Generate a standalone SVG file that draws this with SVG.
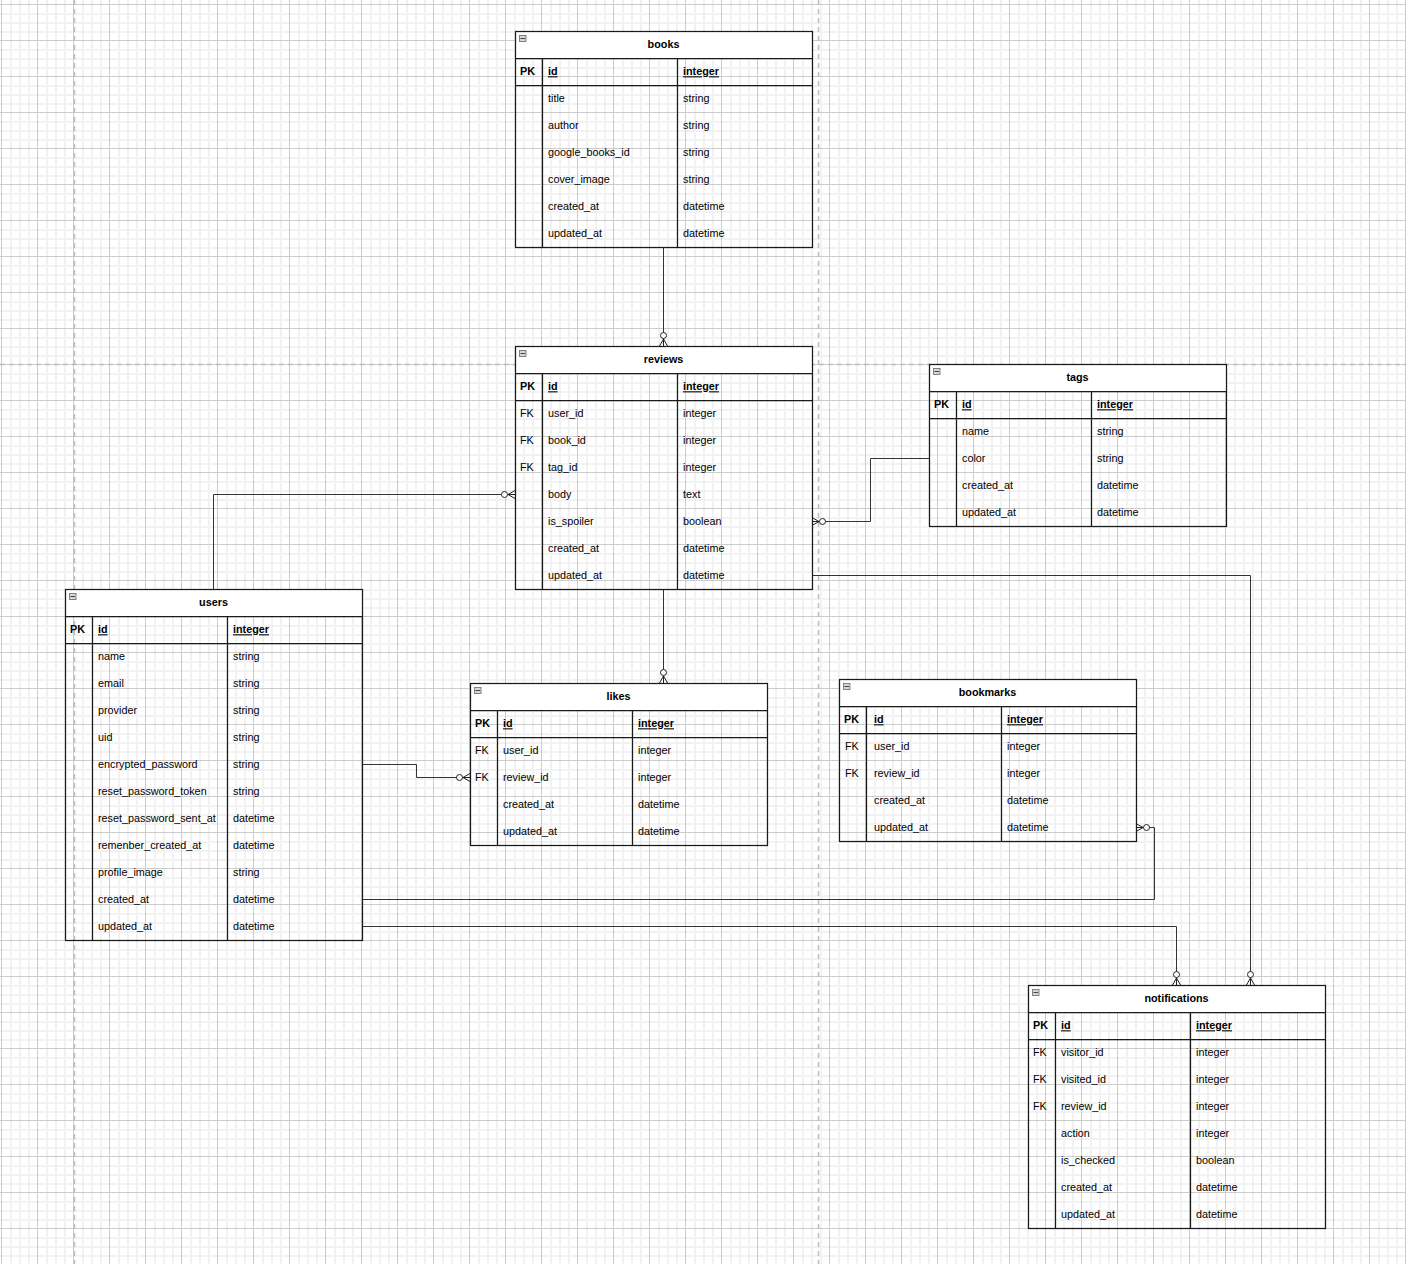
<svg xmlns="http://www.w3.org/2000/svg" width="1406" height="1264" viewBox="0 0 1406 1264">
<style>
.t{font-family:"Liberation Sans",Arial,Helvetica,sans-serif;font-size:10.8px;fill:#000}
.b{font-weight:bold}
.u{text-decoration:underline}
.h{font-weight:bold;text-anchor:middle}
.frame{fill:none;stroke:#1a1a1a;stroke-width:1.25}
.hdr{fill:#fff;stroke:none}
.ln{stroke:#1a1a1a;stroke-width:1.25;fill:none}
.ico{fill:#d6d6d6;stroke:#777;stroke-width:0.9}
.icl{stroke:#444;stroke-width:1}
.c{fill:none;stroke:#333;stroke-width:1;marker-end:url(#zm)}
.pg{stroke:#bdbdbd;stroke-width:1.5;stroke-dasharray:5 4;fill:none}
</style>
<defs>
<pattern id="grid" x="37" y="4" width="36" height="36" patternUnits="userSpaceOnUse">
<rect width="36" height="36" fill="#fff"/>
<rect x="9" y="0" width="2" height="36" fill="#f2f2f2"/>
<rect x="18" y="0" width="2" height="36" fill="#f2f2f2"/>
<rect x="27" y="0" width="2" height="36" fill="#f2f2f2"/>
<rect x="0" y="9" width="36" height="2" fill="#f2f2f2"/>
<rect x="0" y="18" width="36" height="2" fill="#f2f2f2"/>
<rect x="0" y="27" width="36" height="2" fill="#f2f2f2"/>
<rect x="0" y="0" width="1" height="36" fill="#cccccc"/>
<rect x="0" y="0" width="36" height="1" fill="#cccccc"/>
</pattern>
<marker id="zm" markerUnits="userSpaceOnUse" viewBox="-16 -8 17 16" refX="0" refY="0" markerWidth="17" markerHeight="16" orient="auto" overflow="visible">
<path d="M-7 0L0 -4M-7 0L0 0M-7 0L0 4" fill="none" stroke="#222" stroke-width="1"/>
<circle cx="-10.5" cy="0" r="3" fill="#fff" stroke="#222" stroke-width="1"/>
</marker>
</defs>
<rect width="1406" height="1264" fill="url(#grid)"/>
<g id="page-breaks">
<path class="pg" d="M74.5 0V1264M818.5 0V1264M0 364.5H1406"/>
</g>
<g id="connectors">
<path class="c" d="M663.5 247V346"/>
<path class="c" d="M213.5 589V494.5H515"/>
<path class="c" d="M929 458.5H870.5V521.5H812"/>
<path class="c" d="M663.5 589V683"/>
<path class="c" d="M362 764.5H416.5V777.5H470"/>
<path class="c" d="M362 899.5H1154.5V827.5H1136"/>
<path class="c" d="M362 926.5H1176.5V985"/>
<path class="c" d="M812 575.5H1250.5V985"/>
</g>
<g id="books" transform="translate(515,31)">
<rect class="hdr" x="0.5" y="0.5" width="297" height="27"/>
<rect class="frame" x="0.5" y="0.5" width="297" height="216"/>
<path class="ln" d="M0.5 27.5H297.5M0.5 54.5H297.5M27.5 27.5V216.5M162.5 27.5V216.5"/>
<rect class="ico" x="4.5" y="4.5" width="6.5" height="6"/><path class="icl" d="M5.5 7.5H10"/>
<text class="t h" x="148.5" y="17.3">books</text>
<text class="t b" x="5" y="44.3">PK</text><text class="t b u" x="33" y="44.3">id</text><text class="t b u" x="168" y="44.3">integer</text>
<text class="t" x="33" y="71.3">title</text><text class="t" x="168" y="71.3">string</text>
<text class="t" x="33" y="98.3">author</text><text class="t" x="168" y="98.3">string</text>
<text class="t" x="33" y="125.3">google_books_id</text><text class="t" x="168" y="125.3">string</text>
<text class="t" x="33" y="152.3">cover_image</text><text class="t" x="168" y="152.3">string</text>
<text class="t" x="33" y="179.3">created_at</text><text class="t" x="168" y="179.3">datetime</text>
<text class="t" x="33" y="206.3">updated_at</text><text class="t" x="168" y="206.3">datetime</text>
</g>
<g id="reviews" transform="translate(515,346)">
<rect class="hdr" x="0.5" y="0.5" width="297" height="27"/>
<rect class="frame" x="0.5" y="0.5" width="297" height="243"/>
<path class="ln" d="M0.5 27.5H297.5M0.5 54.5H297.5M27.5 27.5V243.5M162.5 27.5V243.5"/>
<rect class="ico" x="4.5" y="4.5" width="6.5" height="6"/><path class="icl" d="M5.5 7.5H10"/>
<text class="t h" x="148.5" y="17.3">reviews</text>
<text class="t b" x="5" y="44.3">PK</text><text class="t b u" x="33" y="44.3">id</text><text class="t b u" x="168" y="44.3">integer</text>
<text class="t" x="5" y="71.3">FK</text><text class="t" x="33" y="71.3">user_id</text><text class="t" x="168" y="71.3">integer</text>
<text class="t" x="5" y="98.3">FK</text><text class="t" x="33" y="98.3">book_id</text><text class="t" x="168" y="98.3">integer</text>
<text class="t" x="5" y="125.3">FK</text><text class="t" x="33" y="125.3">tag_id</text><text class="t" x="168" y="125.3">integer</text>
<text class="t" x="33" y="152.3">body</text><text class="t" x="168" y="152.3">text</text>
<text class="t" x="33" y="179.3">is_spoiler</text><text class="t" x="168" y="179.3">boolean</text>
<text class="t" x="33" y="206.3">created_at</text><text class="t" x="168" y="206.3">datetime</text>
<text class="t" x="33" y="233.3">updated_at</text><text class="t" x="168" y="233.3">datetime</text>
</g>
<g id="tags" transform="translate(929,364)">
<rect class="hdr" x="0.5" y="0.5" width="297" height="27"/>
<rect class="frame" x="0.5" y="0.5" width="297" height="162"/>
<path class="ln" d="M0.5 27.5H297.5M0.5 54.5H297.5M27.5 27.5V162.5M162.5 27.5V162.5"/>
<rect class="ico" x="4.5" y="4.5" width="6.5" height="6"/><path class="icl" d="M5.5 7.5H10"/>
<text class="t h" x="148.5" y="17.3">tags</text>
<text class="t b" x="5" y="44.3">PK</text><text class="t b u" x="33" y="44.3">id</text><text class="t b u" x="168" y="44.3">integer</text>
<text class="t" x="33" y="71.3">name</text><text class="t" x="168" y="71.3">string</text>
<text class="t" x="33" y="98.3">color</text><text class="t" x="168" y="98.3">string</text>
<text class="t" x="33" y="125.3">created_at</text><text class="t" x="168" y="125.3">datetime</text>
<text class="t" x="33" y="152.3">updated_at</text><text class="t" x="168" y="152.3">datetime</text>
</g>
<g id="users" transform="translate(65,589)">
<rect class="hdr" x="0.5" y="0.5" width="297" height="27"/>
<rect class="frame" x="0.5" y="0.5" width="297" height="351"/>
<path class="ln" d="M0.5 27.5H297.5M0.5 54.5H297.5M27.5 27.5V351.5M162.5 27.5V351.5"/>
<rect class="ico" x="4.5" y="4.5" width="6.5" height="6"/><path class="icl" d="M5.5 7.5H10"/>
<text class="t h" x="148.5" y="17.3">users</text>
<text class="t b" x="5" y="44.3">PK</text><text class="t b u" x="33" y="44.3">id</text><text class="t b u" x="168" y="44.3">integer</text>
<text class="t" x="33" y="71.3">name</text><text class="t" x="168" y="71.3">string</text>
<text class="t" x="33" y="98.3">email</text><text class="t" x="168" y="98.3">string</text>
<text class="t" x="33" y="125.3">provider</text><text class="t" x="168" y="125.3">string</text>
<text class="t" x="33" y="152.3">uid</text><text class="t" x="168" y="152.3">string</text>
<text class="t" x="33" y="179.3">encrypted_password</text><text class="t" x="168" y="179.3">string</text>
<text class="t" x="33" y="206.3">reset_password_token</text><text class="t" x="168" y="206.3">string</text>
<text class="t" x="33" y="233.3">reset_password_sent_at</text><text class="t" x="168" y="233.3">datetime</text>
<text class="t" x="33" y="260.3">remenber_created_at</text><text class="t" x="168" y="260.3">datetime</text>
<text class="t" x="33" y="287.3">profile_image</text><text class="t" x="168" y="287.3">string</text>
<text class="t" x="33" y="314.3">created_at</text><text class="t" x="168" y="314.3">datetime</text>
<text class="t" x="33" y="341.3">updated_at</text><text class="t" x="168" y="341.3">datetime</text>
</g>
<g id="likes" transform="translate(470,683)">
<rect class="hdr" x="0.5" y="0.5" width="297" height="27"/>
<rect class="frame" x="0.5" y="0.5" width="297" height="162"/>
<path class="ln" d="M0.5 27.5H297.5M0.5 54.5H297.5M27.5 27.5V162.5M162.5 27.5V162.5"/>
<rect class="ico" x="4.5" y="4.5" width="6.5" height="6"/><path class="icl" d="M5.5 7.5H10"/>
<text class="t h" x="148.5" y="17.3">likes</text>
<text class="t b" x="5" y="44.3">PK</text><text class="t b u" x="33" y="44.3">id</text><text class="t b u" x="168" y="44.3">integer</text>
<text class="t" x="5" y="71.3">FK</text><text class="t" x="33" y="71.3">user_id</text><text class="t" x="168" y="71.3">integer</text>
<text class="t" x="5" y="98.3">FK</text><text class="t" x="33" y="98.3">review_id</text><text class="t" x="168" y="98.3">integer</text>
<text class="t" x="33" y="125.3">created_at</text><text class="t" x="168" y="125.3">datetime</text>
<text class="t" x="33" y="152.3">updated_at</text><text class="t" x="168" y="152.3">datetime</text>
</g>
<g id="bookmarks" transform="translate(839,679)">
<rect class="hdr" x="0.5" y="0.5" width="297" height="27"/>
<rect class="frame" x="0.5" y="0.5" width="297" height="162"/>
<path class="ln" d="M0.5 27.5H297.5M0.5 54.5H297.5M27.5 27.5V162.5M162.5 27.5V162.5"/>
<rect class="ico" x="4.5" y="4.5" width="6.5" height="6"/><path class="icl" d="M5.5 7.5H10"/>
<text class="t h" x="148.5" y="17.3">bookmarks</text>
<text class="t b" x="5" y="44.3">PK</text><text class="t b u" x="35" y="44.3">id</text><text class="t b u" x="168" y="44.3">integer</text>
<text class="t" x="6" y="71.3">FK</text><text class="t" x="35" y="71.3">user_id</text><text class="t" x="168" y="71.3">integer</text>
<text class="t" x="6" y="98.3">FK</text><text class="t" x="35" y="98.3">review_id</text><text class="t" x="168" y="98.3">integer</text>
<text class="t" x="35" y="125.3">created_at</text><text class="t" x="168" y="125.3">datetime</text>
<text class="t" x="35" y="152.3">updated_at</text><text class="t" x="168" y="152.3">datetime</text>
</g>
<g id="notifications" transform="translate(1028,985)">
<rect class="hdr" x="0.5" y="0.5" width="297" height="27"/>
<rect class="frame" x="0.5" y="0.5" width="297" height="243"/>
<path class="ln" d="M0.5 27.5H297.5M0.5 54.5H297.5M27.5 27.5V243.5M162.5 27.5V243.5"/>
<rect class="ico" x="4.5" y="4.5" width="6.5" height="6"/><path class="icl" d="M5.5 7.5H10"/>
<text class="t h" x="148.5" y="17.3">notifications</text>
<text class="t b" x="5" y="44.3">PK</text><text class="t b u" x="33" y="44.3">id</text><text class="t b u" x="168" y="44.3">integer</text>
<text class="t" x="5" y="71.3">FK</text><text class="t" x="33" y="71.3">visitor_id</text><text class="t" x="168" y="71.3">integer</text>
<text class="t" x="5" y="98.3">FK</text><text class="t" x="33" y="98.3">visited_id</text><text class="t" x="168" y="98.3">integer</text>
<text class="t" x="5" y="125.3">FK</text><text class="t" x="33" y="125.3">review_id</text><text class="t" x="168" y="125.3">integer</text>
<text class="t" x="33" y="152.3">action</text><text class="t" x="168" y="152.3">integer</text>
<text class="t" x="33" y="179.3">is_checked</text><text class="t" x="168" y="179.3">boolean</text>
<text class="t" x="33" y="206.3">created_at</text><text class="t" x="168" y="206.3">datetime</text>
<text class="t" x="33" y="233.3">updated_at</text><text class="t" x="168" y="233.3">datetime</text>
</g>
</svg>
